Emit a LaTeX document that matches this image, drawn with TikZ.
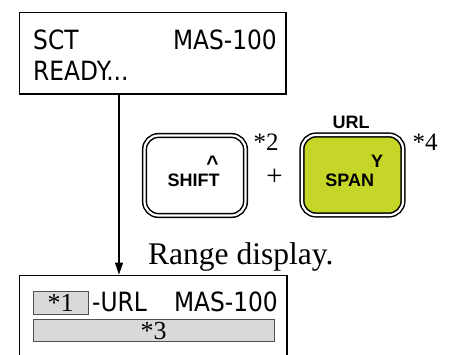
\documentclass[tikz,border=0pt]{standalone}
\usepackage{fontspec}
\setmainfont{Liberation Serif}
\newfontfamily\lcdfont[FakeStretch=0.88]{DejaVu Sans}
\newfontfamily\capfont{Liberation Sans}
\usetikzlibrary{arrows.meta,positioning}
\definecolor{spangreen}{RGB}{197,214,40}
\definecolor{lcdgray}{RGB}{217,217,217}
\definecolor{edgegray}{RGB}{80,80,80}

\begin{document}
\begin{tikzpicture}[x=1pt, y=-1pt,
      lcd/.style={draw, line width=1.8pt, inner sep=0pt},
      lcdtext/.style={font=\lcdfont\fontsize{26.5}{30}\selectfont, inner sep=0pt},
      keycap/.style={draw, line width=1.5pt, double=white, double distance=2.2pt,
                     rounded corners=14pt, minimum width=101pt, minimum height=80pt, inner sep=0pt},
      keytext/.style={font=\capfont\bfseries\fontsize{18}{21}\selectfont, inner sep=0pt},
      note/.style={font=\fontsize{25}{28}\selectfont, inner sep=0pt},
      field/.style={draw=edgegray, line width=0.8pt, fill=lcdgray, inner sep=0pt, anchor=north west}]
    \path[use as bounding box, clip] (0,0) rectangle (449,354);
    % displays
    \node[lcd, minimum width=266.5pt, minimum height=81.5pt] (lcdtop) at (152.75,53.25) {};
    \node[lcd, minimum width=267.5pt, minimum height=104.5pt] (lcdbot) at (153.25,327.75) {};
    \node[lcdtext, anchor=base west] (sct) at (33,49) {SCT};
    \node[lcdtext, anchor=base east] (model) at (277,49) {MAS-100};
    \node[lcdtext, anchor=base west] (ready) at (33,80) {READY...};
    \node[field, minimum width=55pt, minimum height=23pt] (fieldone) at (33,290.5) {};
    \node[field, minimum width=241pt, minimum height=22.5pt] (fieldthree) at (33,318.5) {};
    \node[note, font=\fontsize{26}{30}\selectfont, anchor=base] (starone) at (60.5,311.5) {*1};
    \node[note, font=\fontsize{26}{30}\selectfont, anchor=base] (starthree) at (153.5,339.5) {*3};
    \node[lcdtext, anchor=base west] (urlb) at (92,311.5) {-URL};
    \node[lcdtext, anchor=base east] (modelb) at (278,311.5) {MAS-100};
    % keys
    \node[keycap] (shiftkey) at (195,175.5) {};
    \node[keycap, fill=spangreen] (spankey) at (352.5,175) {};
    \node[keytext, anchor=base] (shiftlbl) at (193.7,186)
      {SHIFT\llap{\raisebox{16pt}{\fontsize{21}{24}\selectfont\textasciicircum}\kern1pt}};
    \node[keytext, anchor=base] (spanlbl) at (349.7,186) {SPAN};
    \node[keytext, anchor=base] (ylbl) at (377,167) {Y};
    \node[keytext, anchor=base] (urllbl) at (351,128.3) {URL};
    \node[note, anchor=base west] (startwo) at (253.5,150) {*2};
    \node[note, anchor=base west] (starfour) at (412.5,150) {*4};
    \node[note, font=\fontsize{29}{32}\selectfont, anchor=base] (plus) at (274.5,185) {+};
    \node[font=\fontsize{31.5}{36}\selectfont, inner sep=0pt, anchor=base west] (range) at (148,264.3) {Range display.};
    % connector
    \coordinate (drop) at (119,0);
    \draw[line width=1.2pt, -{Triangle[length=12pt,width=8pt]}] (lcdtop.south -| drop) -- (lcdbot.north -| drop);
  \end{tikzpicture}
\end{document}
